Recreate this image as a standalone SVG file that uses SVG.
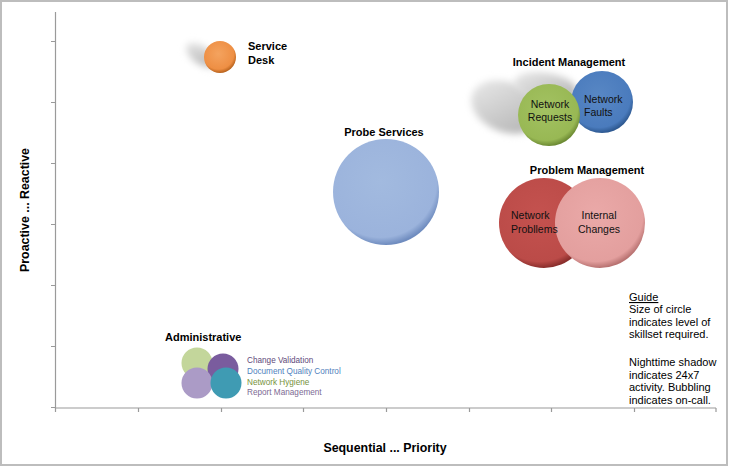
<svg xmlns="http://www.w3.org/2000/svg" width="729" height="467" viewBox="0 0 729 467">
<style>
  text { font-family: "Liberation Sans", Arial, sans-serif; fill: #000; }
  .ttl { font-weight: bold; font-size: 11px; }
  .axl { font-weight: bold; font-size: 12.4px; }
  .in { font-size: 10.5px; fill: #111; }
  .adm { font-size: 8.2px; }
  .guide { font-size: 11px; }
  .axis { stroke: #9a9a9a; stroke-width: 1.2; fill: none; }
  .shadow { fill: url(#gSh); filter: url(#blur); }
</style>
<defs>
  <filter id="blur" x="-50%" y="-50%" width="200%" height="200%"><feGaussianBlur stdDeviation="3.5"/></filter>
  <linearGradient id="gSh" x1="0" y1="0" x2="1" y2="0.6"><stop offset="0" stop-color="#ececec"/><stop offset="1" stop-color="#b8b8b8"/></linearGradient>
  <radialGradient id="gOr" cx="0.45" cy="0.4" r="0.6"><stop offset="0" stop-color="#f4a35f"/><stop offset="0.8" stop-color="#ee8f44"/><stop offset="1" stop-color="#b8621c"/></radialGradient>
  <radialGradient id="gPr" cx="0.45" cy="0.4" r="0.6"><stop offset="0" stop-color="#a2badf"/><stop offset="0.88" stop-color="#9bb3dc"/><stop offset="1" stop-color="#6f8cbf"/></radialGradient>
  <radialGradient id="gBl" cx="0.45" cy="0.4" r="0.6"><stop offset="0" stop-color="#5887c4"/><stop offset="0.85" stop-color="#4a7bbd"/><stop offset="1" stop-color="#2d5890"/></radialGradient>
  <radialGradient id="gGr" cx="0.45" cy="0.4" r="0.6"><stop offset="0" stop-color="#a3c262"/><stop offset="0.85" stop-color="#98b854"/><stop offset="1" stop-color="#6c8a33"/></radialGradient>
  <radialGradient id="gRd" cx="0.45" cy="0.4" r="0.6"><stop offset="0" stop-color="#c4524f"/><stop offset="0.88" stop-color="#bb4b48"/><stop offset="1" stop-color="#8a2e2c"/></radialGradient>
  <radialGradient id="gPk" cx="0.45" cy="0.4" r="0.6"><stop offset="0" stop-color="#eaa9a8"/><stop offset="0.88" stop-color="#e39f9e"/><stop offset="1" stop-color="#b87271"/></radialGradient>
</defs>

<rect x="1" y="1" width="726" height="464" fill="#fff" stroke="#bdbdbd" stroke-width="2"/>

<g id="axes">
  <path class="axis" d="M55.5 12 V408 H716"/>
  <path class="axis" d="M51 41.5 H55.5 M51 102.5 H55.5 M51 163.5 H55.5 M51 224.5 H55.5 M51 285.5 H55.5 M51 346.5 H55.5 M51 407.5 H55.5"/>
  <path class="axis" d="M55.5 408 V412 M138.5 408 V412 M221.5 408 V412 M303.5 408 V412 M386.5 408 V412 M469.5 408 V412 M551.5 408 V412 M634.5 408 V412 M716 408 V412"/>
  <text class="axl" x="385" y="452" text-anchor="middle">Sequential ... Priority</text>
  <text class="axl" transform="translate(29 210) rotate(-90)" text-anchor="middle">Proactive ... Reactive</text>
</g>

<g id="service-desk">
  <ellipse class="shadow" cx="201" cy="55" rx="17" ry="9" transform="rotate(35 201 55)"/>
  <circle cx="220" cy="57" r="16" fill="url(#gOr)"/>
  <text class="ttl" x="248" y="50">Service</text>
  <text class="ttl" x="248" y="64">Desk</text>
</g>

<g id="probe-services">
  <circle cx="386" cy="192" r="53" fill="url(#gPr)"/>
  <text class="ttl" x="384" y="136" text-anchor="middle">Probe Services</text>
</g>

<g id="incident-management">
  <ellipse class="shadow" cx="506" cy="107" rx="36" ry="25" transform="rotate(22 506 107)"/>
  <ellipse class="shadow" cx="546" cy="87" rx="32" ry="14" transform="rotate(10 546 87)"/>
  <circle cx="602" cy="102" r="31" fill="url(#gBl)"/>
  <circle cx="549" cy="115" r="31" fill="url(#gGr)"/>
  <text class="ttl" x="569" y="66" text-anchor="middle">Incident Management</text>
  <text class="in" x="584" y="103">Network</text>
  <text class="in" x="584" y="116">Faults</text>
  <text class="in" x="550" y="108" text-anchor="middle">Network</text>
  <text class="in" x="550" y="121" text-anchor="middle">Requests</text>
</g>

<g id="problem-management">
  <circle cx="544" cy="223" r="45" fill="url(#gRd)"/>
  <circle cx="600" cy="223" r="45" fill="url(#gPk)"/>
  <text class="ttl" x="587" y="174" text-anchor="middle">Problem Management</text>
  <text class="in" x="511" y="219">Network</text>
  <text class="in" x="511" y="233">Probllems</text>
  <text class="in" x="599" y="219" text-anchor="middle">Internal</text>
  <text class="in" x="599" y="233" text-anchor="middle">Changes</text>
</g>

<g id="administrative">
  <text class="ttl" x="165" y="341">Administrative</text>
  <circle cx="197" cy="363" r="15.5" fill="#c3d69b"/>
  <circle cx="223" cy="369" r="15.5" fill="#7a5c9e"/>
  <circle cx="197" cy="383" r="15.5" fill="#ab9bc6"/>
  <circle cx="226" cy="383" r="15.5" fill="#3f9bb3"/>
  <text class="adm" x="247" y="363" style="fill:#60497a">Change Validation</text>
  <text class="adm" x="247" y="374" style="fill:#4f81bd">Document Quality Control</text>
  <text class="adm" x="247" y="385" style="fill:#77933c">Network Hygiene</text>
  <text class="adm" x="247" y="395" style="fill:#7d6a94">Report Management</text>
</g>

<g id="guide">
  <text class="guide" x="629" y="301" text-decoration="underline">Guide</text>
  <text class="guide" x="629" y="313">Size of circle</text>
  <text class="guide" x="629" y="326">indicates level of</text>
  <text class="guide" x="629" y="338">skillset required.</text>
  <text class="guide" x="629" y="366">Nighttime shadow</text>
  <text class="guide" x="629" y="379">indicates 24x7</text>
  <text class="guide" x="629" y="391">activity. Bubbling</text>
  <text class="guide" x="629" y="404">indicates on-call.</text>
</g>
</svg>
